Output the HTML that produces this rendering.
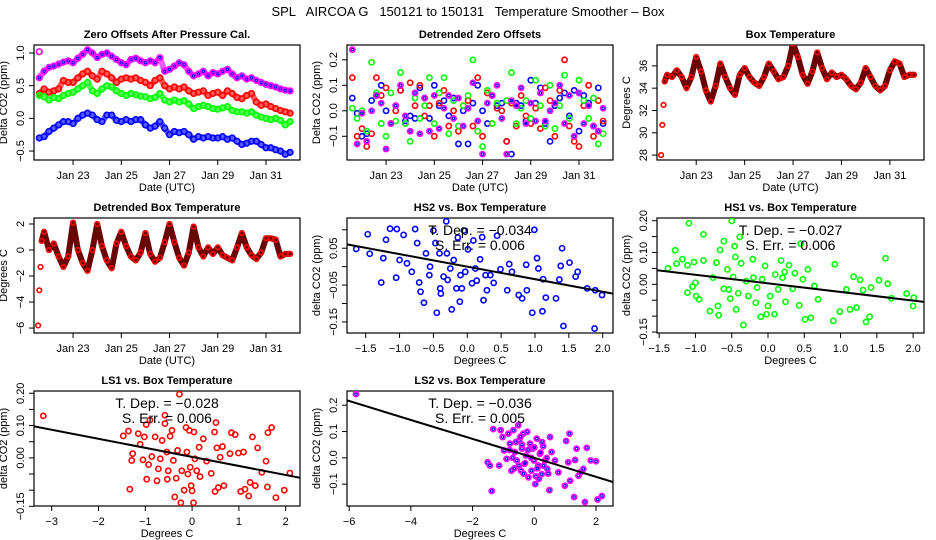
<!DOCTYPE html>
<html><head><meta charset="utf-8"><title>SPL AIRCOA G Temperature Smoother</title>
<style>
html,body{margin:0;padding:0;background:#fff;}
svg{display:block;font-family:"Liberation Sans",Arial,sans-serif;}
</style></head>
<body>
<svg id="chart" width="936" height="540" viewBox="0 0 936 540" xmlns="http://www.w3.org/2000/svg">
<rect x="0" y="0" width="936" height="540" fill="#fff"/>
<text x="468" y="16" text-anchor="middle" font-size="13" xml:space="preserve">SPL   AIRCOA G   150121 to 150131   Temperature Smoother – Box</text>
</svg>
<script>
// ---------- data ----------
const times = [21.6,21.8,22.0,22.2,22.4,22.6,22.8,23.0,23.2,23.4,23.6,23.8,24.0,24.2,24.4,24.6,24.8,25.0,25.2,25.4,25.6,25.8,26.0,26.2,26.4,26.6,26.8,27.0,27.2,27.4,27.6,27.8,28.0,28.2,28.4,28.6,28.8,29.0,29.2,29.4,29.6,29.8,30.0,30.2,30.4,30.6,30.8,31.0,31.2,31.4,31.6,31.8,32.0];
const zoLS2 = [0.62,0.72,0.78,0.80,0.83,0.86,0.88,0.85,0.92,0.98,1.05,1.0,0.93,0.98,1.0,0.95,0.9,0.85,0.82,0.9,0.92,0.88,0.85,0.88,0.85,0.93,0.72,0.75,0.8,0.85,0.82,0.72,0.65,0.68,0.72,0.65,0.7,0.68,0.72,0.75,0.68,0.62,0.65,0.6,0.62,0.58,0.55,0.52,0.5,0.48,0.45,0.43,0.42];
const zoLS1 = [0.38,0.45,0.40,0.42,0.45,0.58,0.55,0.55,0.62,0.68,0.72,0.65,0.6,0.72,0.68,0.62,0.55,0.6,0.62,0.6,0.62,0.58,0.55,0.5,0.58,0.62,0.5,0.45,0.48,0.45,0.48,0.42,0.38,0.4,0.42,0.35,0.38,0.4,0.35,0.42,0.38,0.32,0.3,0.35,0.38,0.25,0.2,0.22,0.18,0.15,0.12,0.1,0.08];
const zoHS1 = [0.35,0.33,0.28,0.32,0.3,0.35,0.38,0.4,0.45,0.5,0.55,0.42,0.38,0.45,0.5,0.48,0.42,0.38,0.35,0.38,0.36,0.34,0.33,0.3,0.32,0.38,0.28,0.25,0.28,0.25,0.27,0.22,0.15,0.18,0.2,0.18,0.15,0.14,0.16,0.18,0.12,0.1,0.1,0.08,0.1,0.05,0.02,0.0,-0.02,0.0,-0.03,-0.1,-0.05];
const zoHS2 = [-0.3,-0.28,-0.2,-0.15,-0.1,-0.05,-0.05,-0.08,0.0,0.05,0.08,0.05,-0.02,-0.05,0.05,0.05,-0.03,-0.05,-0.02,-0.05,-0.02,-0.02,-0.1,-0.15,-0.12,-0.05,-0.15,-0.25,-0.2,-0.22,-0.2,-0.25,-0.32,-0.28,-0.3,-0.28,-0.3,-0.3,-0.28,-0.32,-0.3,-0.35,-0.4,-0.38,-0.35,-0.35,-0.4,-0.45,-0.45,-0.48,-0.5,-0.55,-0.52];
const dtHS2 = [0.05,-0.01,-0.1,-0.09,0.04,0.06,0.1,0.0,-0.05,0.02,0.08,-0.04,-0.02,-0.03,0.09,0.05,-0.03,0.1,0.02,0.04,-0.02,0.05,-0.13,0.0,-0.13,0.03,0.1,0.0,-0.05,0.06,0.02,0.03,-0.12,-0.17,0.03,0.02,-0.04,0.12,0.03,0.09,-0.05,-0.12,0.02,0.05,0.07,-0.02,0.08,-0.08,0.06,0.03,-0.06,0.09,-0.05];
const dtLS1 = [0.13,-0.1,-0.07,-0.14,-0.09,0.13,0.06,0.09,-0.05,0.0,0.08,-0.05,0.11,0.02,0.1,-0.02,0.02,-0.1,0.03,0.08,-0.06,0.0,-0.08,0.02,0.04,-0.06,0.13,-0.1,0.07,-0.05,0.01,0.0,-0.12,0.03,-0.06,0.06,-0.02,-0.05,0.01,-0.07,0.09,0.04,-0.1,0.08,0.2,-0.06,-0.12,-0.14,0.02,0.1,-0.1,0.04,-0.04];
const dtHS1 = [0.01,-0.03,0.0,-0.08,0.19,0.07,-0.05,-0.1,0.07,-0.04,0.15,-0.05,-0.12,0.05,-0.03,0.02,0.13,-0.05,0.07,0.13,-0.09,0.04,-0.06,0.02,0.06,0.2,-0.08,-0.14,0.08,-0.05,0.03,-0.03,0.04,0.15,-0.05,0.01,0.04,-0.03,0.12,0.02,-0.06,0.1,-0.07,0.02,0.14,-0.03,-0.1,0.12,0.04,-0.03,0.05,-0.13,-0.09];
const dtLS2 = [0.24,-0.13,-0.01,-0.12,0.0,0.06,0.03,-0.15,-0.05,0.02,0.1,-0.02,-0.08,0.07,-0.09,0.05,-0.08,0.06,-0.07,0.01,0.06,-0.03,0.05,-0.06,0.01,0.11,-0.04,-0.17,0.03,0.06,0.1,-0.03,-0.17,0.04,0.02,0.09,-0.05,0.03,-0.04,0.07,-0.04,0.0,0.03,0.1,-0.05,0.06,-0.1,0.07,-0.05,0.02,-0.06,-0.08,0.01];
const boxTimes = [21.55,21.6,21.65,21.7,21.8,22.0,22.2,22.4,22.6,22.8,23.0,23.2,23.4,23.6,23.8,24.0,24.2,24.4,24.6,24.8,25.0,25.2,25.4,25.6,25.8,26.0,26.2,26.4,26.6,26.8,27.0,27.2,27.4,27.6,27.8,28.0,28.2,28.4,28.6,28.8,29.0,29.2,29.4,29.6,29.8,30.0,30.2,30.4,30.6,30.8,31.0,31.2,31.4,31.6,31.8,32.0];
const boxTemp = [28.0,30.7,32.5,34.6,35.2,35.0,35.6,35.0,34.0,35.0,36.8,35.5,33.8,32.8,34.2,36.2,35.0,34.0,33.4,35.2,35.8,35.0,34.5,34.2,35.0,36.2,35.5,34.8,35.0,36.0,38.0,36.8,35.2,34.4,35.5,37.2,35.8,34.8,35.4,35.0,35.2,34.8,34.2,33.9,34.5,35.8,35.0,34.2,33.8,34.2,35.6,36.4,36.2,35.0,35.2,35.2];
const boxDetr = [-5.8,-3.1,-1.3,0.7,1.4,0.0,0.5,-0.5,-1.3,-0.5,2.1,0.0,-1.0,-1.6,0.0,2.0,0.3,-0.8,-1.4,0.5,1.4,0.3,-0.5,-0.8,-0.2,1.3,-0.3,-0.9,-0.6,0.6,2.0,0.6,-0.6,-1.2,-0.2,1.8,0.2,-0.5,0.2,-0.3,0.2,-0.4,-0.6,-0.8,0.2,1.3,0.2,-0.4,-0.7,-0.2,0.9,0.9,0.8,-0.5,-0.3,-0.3];
const hs2X = [-1.64,-1.47,-1.44,-1.27,-1.24,-1.2,-1.14,-1.04,-1.05,-1.0,-0.94,-0.89,-0.82,-0.77,-0.74,-0.71,-0.69,-0.64,-0.61,-0.56,-0.55,-0.5,-0.47,-0.45,-0.41,-0.4,-0.39,-0.35,-0.31,-0.3,-0.29,-0.25,-0.23,-0.2,-0.16,-0.14,-0.11,-0.1,-0.08,-0.05,-0.03,0.01,0.07,0.09,0.12,0.14,0.19,0.22,0.24,0.27,0.29,0.34,0.39,0.44,0.49,0.59,0.62,0.66,0.76,0.81,0.87,0.88,0.96,0.99,1.03,1.05,1.11,1.12,1.16,1.31,1.36,1.38,1.4,1.42,1.51,1.6,1.63,1.77,1.88,1.89,1.99];
const hs2Y = [0.048,0.088,0.035,-0.043,0.023,0.073,0.103,0.102,-0.03,0.018,0.086,0.009,-0.014,0.102,0.064,-0.043,-0.068,-0.098,0.036,-0.023,0.0,0.098,0.064,-0.125,0.036,-0.059,-0.073,-0.027,0.123,0.036,-0.036,-0.005,-0.116,0.018,-0.059,0.079,-0.095,-0.023,-0.059,0.098,-0.014,0.047,-0.045,0.071,-0.005,-0.038,0.02,0.08,-0.091,-0.023,-0.064,-0.023,-0.044,0.084,-0.007,-0.064,0.007,-0.014,-0.077,-0.086,0.005,-0.064,-0.125,0.1,0.023,-0.005,-0.121,-0.034,-0.084,-0.086,-0.035,0.002,0.05,-0.161,0.011,-0.027,-0.014,-0.059,-0.168,-0.064,-0.077];
const hs1X = [-1.38,-1.28,-1.26,-1.18,-1.11,-1.11,-1.09,-1.04,-1.02,-1.0,-0.99,-0.95,-0.89,-0.89,-0.8,-0.76,-0.71,-0.69,-0.68,-0.66,-0.61,-0.61,-0.56,-0.54,-0.52,-0.5,-0.48,-0.46,-0.45,-0.44,-0.41,-0.39,-0.37,-0.34,-0.3,-0.27,-0.21,-0.2,-0.17,-0.15,-0.1,-0.08,-0.04,-0.02,0.0,0.03,0.09,0.1,0.14,0.18,0.2,0.23,0.24,0.29,0.34,0.37,0.43,0.45,0.48,0.51,0.55,0.59,0.64,0.69,0.9,0.92,0.99,1.08,1.13,1.18,1.22,1.27,1.31,1.35,1.4,1.42,1.53,1.62,1.65,1.7,1.91,2.0,2.01];
const hs1Y = [0.05,0.107,0.065,0.079,0.06,-0.026,0.192,-0.007,0.07,0.005,-0.037,-0.047,0.157,0.075,-0.084,0.021,0.068,-0.068,-0.097,0.108,0.136,-0.014,0.047,-0.016,-0.045,0.199,0.023,0.12,0.086,-0.079,-0.028,0.149,0.066,-0.128,0.01,-0.037,0.079,0.021,-0.058,-0.01,-0.102,0.016,0.058,-0.094,-0.068,-0.037,-0.094,0.031,-0.016,0.075,0.021,0.039,-0.055,0.06,-0.014,0.035,-0.066,0.128,0.016,-0.11,0.047,-0.105,-0.005,-0.047,-0.115,0.063,-0.086,-0.016,-0.079,0.024,-0.073,0.014,-0.018,-0.118,-0.102,-0.01,0.013,0.082,0.002,-0.044,-0.029,-0.068,-0.042];
const ls1X = [-3.18,-1.47,-1.36,-1.33,-1.29,-1.27,-1.15,-1.11,-1.05,-1.02,-0.98,-0.97,-0.93,-0.9,-0.86,-0.79,-0.75,-0.72,-0.68,-0.64,-0.58,-0.58,-0.54,-0.53,-0.51,-0.47,-0.43,-0.4,-0.37,-0.34,-0.31,-0.27,-0.24,-0.22,-0.17,-0.13,-0.11,-0.09,-0.06,-0.04,-0.02,0.0,0.03,0.04,0.06,0.1,0.15,0.17,0.24,0.31,0.41,0.48,0.49,0.51,0.53,0.56,0.6,0.65,0.68,0.81,0.84,0.92,0.99,1.04,1.1,1.13,1.21,1.24,1.29,1.35,1.4,1.49,1.58,1.61,1.62,1.7,1.79,1.97,2.09];
const ls1Y = [0.13,0.068,0.083,-0.097,-0.008,0.013,0.075,0.042,-0.006,0.065,0.103,-0.066,-0.021,0.117,0.004,0.065,-0.071,-0.034,-0.003,0.054,0.132,0.106,0.018,-0.066,-0.04,0.067,0.085,-0.008,-0.121,-0.063,0.023,0.197,-0.139,-0.04,-0.1,0.094,0.018,-0.05,0.085,-0.029,-0.086,-0.102,-0.139,0.08,-0.003,-0.04,0.033,-0.058,0.059,-0.01,-0.048,0.08,-0.104,0.109,0.031,-0.092,0.002,0.035,-0.086,0.013,0.078,0.072,0.015,-0.104,0.018,-0.097,-0.118,-0.076,0.065,-0.086,0.031,-0.045,-0.01,-0.09,0.078,0.094,-0.123,-0.1,-0.047];
const ls2X = [-5.78,-1.51,-1.38,-1.33,-1.44,-1.09,-1.14,-1.03,-0.98,-0.9,-0.84,-0.79,-0.74,-0.68,-0.63,-0.57,-0.52,-0.49,-0.43,-0.4,-0.36,-0.32,-0.27,-0.23,-0.19,-0.14,-0.09,-0.05,-0.01,0.03,0.08,0.13,0.18,0.24,0.29,0.35,0.42,0.49,0.51,0.56,0.67,0.78,0.99,1.03,1.1,1.14,1.16,1.29,1.32,1.37,1.43,1.5,1.59,1.64,1.7,1.83,2.0,2.05,2.19,-0.7,-0.6,-0.5,-0.4,-0.3,-0.2,-0.1,0.0,0.1,0.2,0.3,0.4,-0.8,-0.45,0.05,0.25,-0.65,-0.35,0.15,0.45];
const ls2Y = [0.242,-0.017,-0.126,0.109,-0.029,0.105,-0.029,0.079,0.028,-0.004,0.092,0.054,-0.049,0.105,0.022,-0.01,0.124,0.067,-0.049,0.035,0.092,-0.023,0.009,0.099,-0.074,0.054,-0.049,0.035,-0.01,-0.1,0.073,-0.029,0.015,-0.062,0.044,-0.01,-0.042,-0.123,0.079,0.022,-0.01,-0.055,-0.106,0.064,-0.017,0.092,-0.087,-0.149,-0.008,0.035,-0.068,-0.055,-0.042,-0.168,0.038,-0.01,-0.013,-0.158,-0.145,0.0,0.06,-0.03,0.05,-0.02,0.03,0.0,0.04,-0.04,0.02,-0.03,0.0,0.03,0.08,-0.07,0.06,-0.04,-0.06,-0.08,-0.06];
const fitSlopes = [-0.034,-0.027,-0.028,-0.036];
const fitIntercepts = [0.0,0.003,0.003,0.0];
const fitLabels = [["T. Dep. =  −0.034","S. Err. = 0.006"],["T. Dep. =  −0.027","S. Err. = 0.006"],["T. Dep. =  −0.028","S. Err. = 0.006"],["T. Dep. =  −0.036","S. Err. = 0.005"]];
const dateTicks = [23,25,27,29,31];
const dateTickLabels = ["Jan 23","Jan 25","Jan 27","Jan 29","Jan 31"];

// ---------- drawing ----------
const NS = "http://www.w3.org/2000/svg";
const svg = document.getElementById("chart");
function mk(tag, attrs, parent, txt){
  const e = document.createElementNS(NS, tag);
  for (const k in attrs) e.setAttribute(k, attrs[k]);
  if (txt !== undefined) e.textContent = txt;
  (parent || svg).appendChild(e);
  return e;
}
const COLS = [34, 347, 657], ROWS = [45, 218, 391], PW = 266, PH = 115;
const COL = {blue:"#0000ff", red:"#ff0000", green:"#00ff00", mag:"#ff00ff"};

function panel(name, c, r, xr, yr, title, xlab, ylab, xt, xtl, yt, ytl){
  const L = COLS[c], T = ROWS[r], W = (c === 2 ? 267 : PW), H = PH;
  const g = mk("g", {});
  
  
  const sx = v => L + (v - xr[0]) / (xr[1] - xr[0]) * W;
  const sy = v => T + H - (v - yr[0]) / (yr[1] - yr[0]) * H;
  const frame = mk("rect", {x:L, y:T, width:W, height:H, fill:"none", stroke:"#000", "stroke-width":1.2}, g);
  
  
  const tt = mk("text", {x:L + W/2, y:T - 7, "text-anchor":"middle", "font-size":11, "font-weight":"bold"}, g, title);
  
  
  const xa = mk("g", {}, g);
  
  
  mk("line", {x1:sx(xt[0]), x2:sx(xt[xt.length-1]), y1:T+H, y2:T+H, stroke:"#000"}, xa);
  for (let i = 0; i < xt.length; i++){
    const x = sx(xt[i]);
    mk("line", {x1:x, x2:x, y1:T+H, y2:T+H+5, stroke:"#000"}, xa);
    const lb = mk("text", {x:x, y:T+H+19, "text-anchor":"middle", "font-size":11}, xa, xtl[i]);
    
    
  }
  const xl = mk("text", {x:L + W/2, y:T+H+31, "text-anchor":"middle", "font-size":11}, g, xlab);
  
  
  const ya = mk("g", {}, g);
  
  
  for (let i = 0; i < yt.length; i++){
    const y = sy(yt[i]);
    mk("line", {x1:L-5, x2:L, y1:y, y2:y, stroke:"#000"}, ya);
    if (ytl[i] !== ""){
      const lb = mk("text", {x:L-10, y:y, "text-anchor":"middle", "font-size":11, transform:`rotate(-90 ${L-10} ${y})`}, ya, ytl[i]);
      
      
    }
  }
  const yl = mk("text", {x:L-27, y:T+H/2, "text-anchor":"middle", "font-size":11, transform:`rotate(-90 ${L-27} ${T+H/2})`}, g, ylab);
  
  
  const clipId = "clip-" + name;
  const cp = mk("clipPath", {id:clipId}, g);
  mk("rect", {x:L, y:T, width:W, height:H}, cp);
  const plot = mk("g", {"clip-path":`url(#${clipId})`}, g);
  
  
  return {sx, sy, plot, L, T, W, H};
}

function band(p, xs, ys, color, width, nm, op){
  let d = "";
  const n = Math.min(xs.length, ys.length);
  for (let i = 0; i < n; i++) d += (i ? "L" : "M") + p.sx(xs[i]).toFixed(1) + "," + p.sy(ys[i]).toFixed(1);
  const e = mk("path", {d:d, fill:"none", stroke:color, "stroke-width":width, "stroke-opacity":op || 1, "stroke-linejoin":"round", "stroke-linecap":"round"}, p.plot);
  
  
}
function points(p, xs, ys, color, nm, r, inner){
  const n = Math.min(xs.length, ys.length);
  const g = mk("g", {}, p.plot);
  
  
  for (let i = 0; i < n; i++){
    const c = mk("circle", {cx:p.sx(xs[i]), cy:p.sy(ys[i]), r:r || 2.6, fill:"none", stroke:color, "stroke-width":1.6}, g);
    
    
    if (inner){
      const c2 = mk("circle", {cx:p.sx(xs[i]), cy:p.sy(ys[i]), r:1.2, fill:"none", stroke:inner, "stroke-width":1}, g);
      
      
    }
  }
}

const DR = [21.38, 32.41];
// Panel 1
const p1 = panel("zero-offsets-panel", 0, 0, DR, [-0.637, 1.122], "Zero Offsets After Pressure Cal.", "Date (UTC)", "Delta CO2 (ppm)", dateTicks, dateTickLabels, [-0.5,0,0.5,1.0], ["−0.5","0.0","0.5","1.0"]);
band(p1, times, zoLS2, COL.mag, 6, "ls2-series", 0.65); points(p1, times, zoLS2, COL.mag, "ls2-series", 2.8, "#0000ff");
band(p1, times, zoLS1, COL.red, 6, "ls1-series", 0.65); points(p1, times, zoLS1, COL.red, "ls1-series", 2.8);
band(p1, times, zoHS1, COL.green, 6, "hs1-series", 0.65); points(p1, times, zoHS1, COL.green, "hs1-series", 2.8);
band(p1, times, zoHS2, COL.blue, 6, "hs2-series", 0.65); points(p1, times, zoHS2, COL.blue, "hs2-series", 2.8);
const o1 = mk("circle", {cx:p1.sx(21.6), cy:p1.sy(1.02), r:2.8, fill:"none", stroke:COL.mag, "stroke-width":1.6}, p1.plot);



// Panel 2
const p2 = panel("detrended-zero-offsets-panel", 1, 0, DR, [-0.193, 0.258], "Detrended Zero Offsets", "Date (UTC)", "Delta CO2 (ppm)", dateTicks, dateTickLabels, [-0.1,0,0.1,0.2], ["−0.1","0.0","0.1","0.2"]);
points(p2, times, dtHS2, COL.blue, "hs2-detrended", 2.6);
points(p2, times, dtLS1, COL.red, "ls1-detrended", 2.6);
points(p2, times, dtHS1, COL.green, "hs1-detrended", 2.6);
points(p2, times, dtLS2, COL.mag, "ls2-detrended", 2.6, "#0000ff");

// Panel 3
const p3 = panel("box-temperature-panel", 2, 0, DR, [27.56, 37.87], "Box Temperature", "Date (UTC)", "Degrees C", dateTicks, dateTickLabels, [28,30,32,34,36], ["28","30","32","34","36"]);
band(p3, boxTimes.slice(3), boxTemp.slice(3), "#6a0505", 6, "box-temp");
points(p3, boxTimes, boxTemp, COL.red, "box-temp", 2.3);

// Panel 4
const p4 = panel("detrended-box-temperature-panel", 0, 1, DR, [-6.38, 2.46], "Detrended Box Temperature", "Date (UTC)", "Degrees C", dateTicks, dateTickLabels, [-6,-4,-2,0,2], ["−6","−4","−2","0","2"]);
band(p4, boxTimes.slice(3), boxDetr.slice(3), "#6a0505", 6, "box-detr");
points(p4, boxTimes, boxDetr, COL.red, "box-detr", 2.3);

// scatter panels
function fitLine(p, xr, k, nm){
  const ln = mk("line", {x1:p.sx(xr[0]), y1:p.sy(fitIntercepts[k] + fitSlopes[k]*xr[0]), x2:p.sx(xr[1]), y2:p.sy(fitIntercepts[k] + fitSlopes[k]*xr[1]), stroke:"#000", "stroke-width":2}, p.plot);
  
  
  const t1 = mk("text", {x:p.L + p.W/2, y:p.T + 17, "text-anchor":"middle", "font-size":14}, svg, fitLabels[k][0]);
  
  
  const t2 = mk("text", {x:p.L + p.W/2, y:p.T + 32, "text-anchor":"middle", "font-size":14}, svg, fitLabels[k][1]);
  
  
}
const hsX = [-1.776, 2.152];
const p5 = panel("hs2-vs-box-temp-panel", 1, 1, hsX, [-0.18, 0.132], "HS2 vs. Box Temperature", "Degrees C", "delta CO2 (ppm)", [-1.5,-1,-0.5,0,0.5,1,1.5,2], ["−1.5","−1.0","−0.5","0.0","0.5","1.0","1.5","2.0"], [-0.15,-0.1,-0.05,0,0.05,0.1], ["−0.15","","−0.05","","0.05",""]);
points(p5, hs2X, hs2Y, COL.blue, "hs2-scatter", 2.6);
fitLine(p5, hsX, 0, "hs2");

const h1X = [-1.53, 2.15];
const p6 = panel("hs1-vs-box-temp-panel", 2, 1, h1X, [-0.153, 0.2085], "HS1 vs. Box Temperature", "Degrees C", "delta CO2 (ppm)", [-1.5,-1,-0.5,0,0.5,1,1.5,2], ["−1.5","−1.0","−0.5","0.0","0.5","1.0","1.5","2.0"], [-0.15,-0.1,-0.05,0,0.05,0.1,0.15,0.2], ["−0.15","","","0.00","","0.10","","0.20"]);
points(p6, hs1X, hs1Y, COL.green, "hs1-scatter", 2.6);
fitLine(p6, h1X, 1, "hs1");

const l1X = [-3.378, 2.306];
const p7 = panel("ls1-vs-box-temp-panel", 0, 2, l1X, [-0.149, 0.207], "LS1 vs. Box Temperature", "Degrees C", "delta CO2 (ppm)", [-3,-2,-1,0,1,2], ["−3","−2","−1","0","1","2"], [-0.15,-0.1,-0.05,0,0.05,0.1,0.15,0.2], ["−0.15","","","0.00","","0.10","","0.20"]);
points(p7, ls1X, ls1Y, COL.red, "ls1-scatter", 2.6);
fitLine(p7, l1X, 2, "ls1");

const l2X = [-6.07, 2.55];
const p8 = panel("ls2-vs-box-temp-panel", 1, 2, l2X, [-0.183, 0.254], "LS2 vs. Box Temperature", "Degrees C", "delta CO2 (ppm)", [-6,-4,-2,0,2], ["−6","−4","−2","0","2"], [-0.1,0,0.1,0.2], ["−0.1","0.0","0.1","0.2"]);
points(p8, ls2X, ls2Y, COL.mag, "ls2-scatter", 2.6, "#0000ff");
fitLine(p8, l2X, 3, "ls2");
</script>
</body></html>
